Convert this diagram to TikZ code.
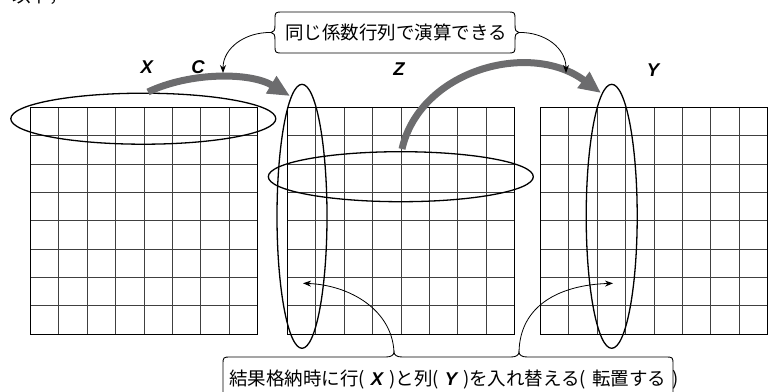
\documentclass[tikz,border=0pt]{standalone}
\usepackage{fontspec}
\setmainfont{Liberation Sans}
\newfontfamily\jp{Noto Sans CJK JP}
\newfontfamily\lab{Liberation Sans}
\usetikzlibrary{arrows.meta,shapes.geometric}
\definecolor{arrowgray}{RGB}{108,108,110}
\newcommand{\bi}[1]{{\lab\bfseries\itshape #1}}
\begin{document}
\begin{tikzpicture}[x=1pt,y=-1pt,
  gridline/.style={black!75, line width=0.9pt},
  gridframe/.style={black, line width=1pt},
  ring/.style={draw, ellipse, line width=1.3pt, inner sep=0pt},
  bigarrow/.style={draw=arrowgray, line width=7pt, -{Triangle[length=22pt,width=19pt,fill=arrowgray]}},
  callout/.style={black, line width=0.9pt},
  pointer/.style={black, line width=0.8pt, -{Stealth[length=8pt,width=6pt]}},
  mlabel/.style={font=\lab\fontsize{18.5}{19}\selectfont\bfseries\itshape, inner sep=0pt},
  jtext/.style={font=\jp\fontsize{18.5}{20}\selectfont, inner sep=0pt}
]
\useasboundingbox (0,0) rectangle (773,391);

% intro text (cut at top)
\node[jtext, anchor=base west] (intro) at (12,2) {以下，};

% grids
\foreach \gx in {30.5, 287.5, 540.5} {
  \foreach \i in {1,...,7} {
    \draw[gridline] ({\gx+\i*28.375},107.5) -- ++(0,226.5);
    \draw[gridline] (\gx,{107.5+\i*28.3125}) -- ++(227,0);
  }
  \draw[gridframe] (\gx,107.5) rectangle ++(227,226.5);
}

% ellipses
\node[ring, minimum width=265pt, minimum height=51pt] (rowX) at (143.3,118.7) {};
\node[ring, minimum width=50pt, minimum height=264pt] (colZ) at (302,216.3) {};
\node[ring, minimum width=265pt, minimum height=50pt] (rowZ) at (400.8,176.7) {};
\node[ring, minimum width=51pt, minimum height=264pt] (colY) at (611.7,216.3) {};

% labels
\node[mlabel] (lx) at (146.7,67) {X};
\node[mlabel] (lc) at (198,67) {C};
\node[mlabel] (lz) at (399,69) {Z};
\node[mlabel] (ly) at (653,70) {Y};

% thick arrows
\coordinate (a1s) at (148,92);
\coordinate (a1e) at (290,96);
\coordinate (a2s) at (402,149);
\coordinate (a2e) at (601,93);
\draw[bigarrow] (a1s) .. controls (190,72) and (250,72) .. (a1e);
\draw[bigarrow] (a2s) .. controls (420,70) and (530,40) .. (a2e);

% top callout
\node[jtext] (top) at (396,32) {同じ係数行列で演算できる};
\coordinate (tl) at (271,32.5);
\coordinate (tr) at (519,32.5);
\draw[callout] (tl) .. controls (274,32.5) and (275,30) .. (275,25) -- (275,20)
  .. controls (275,12) .. (283,12) -- (507,12) .. controls (515,12) .. (515,20) -- (515,25)
  .. controls (515,30) and (516,32.5) .. (tr) .. controls (516,32.5) and (515,35) .. (515,40)
  -- (515,45) .. controls (515,53) .. (507,53) -- (283,53) .. controls (275,53) .. (275,45)
  -- (275,40) .. controls (275,35) and (274,32.5) .. (tl);
\coordinate (tpl) at (223,73);
\coordinate (tpr) at (566,73);
\draw[pointer] (tl) .. controls (245,32) and (223,48) .. (tpl);
\draw[pointer] (tr) .. controls (545,32) and (566,48) .. (tpr);

% bottom callout
\node[jtext, anchor=west] (bot) at (229,380) {結果格納時に行(\hspace{6pt}\bi{X}\hspace{6pt})と列(\hspace{6pt}\bi{Y}\hspace{6pt})を入れ替える(\hspace{6pt}転置する\hspace{6pt})};
\coordinate (bl) at (394,352);
\coordinate (br) at (519,352);
\draw[callout] (223,395) -- (223,365) .. controls (223,357) .. (231,357) -- (386,357)
  .. controls (391,357) and (394,355) .. (bl) .. controls (394,355) and (397,357) .. (402,357)
  -- (511,357) .. controls (516,357) and (519,355) .. (br) .. controls (519,355) and (522,357) .. (527,357)
  -- (665,357) .. controls (673,357) .. (673,365) -- (673,395);
\coordinate (bpl) at (303,283.3);
\coordinate (bpr) at (613,283.3);
\draw[pointer] (bl) .. controls (392,310) and (350,285) .. (bpl);
\draw[pointer] (br) .. controls (520,305) and (560,285) .. (bpr);
\end{tikzpicture}
\end{document}
